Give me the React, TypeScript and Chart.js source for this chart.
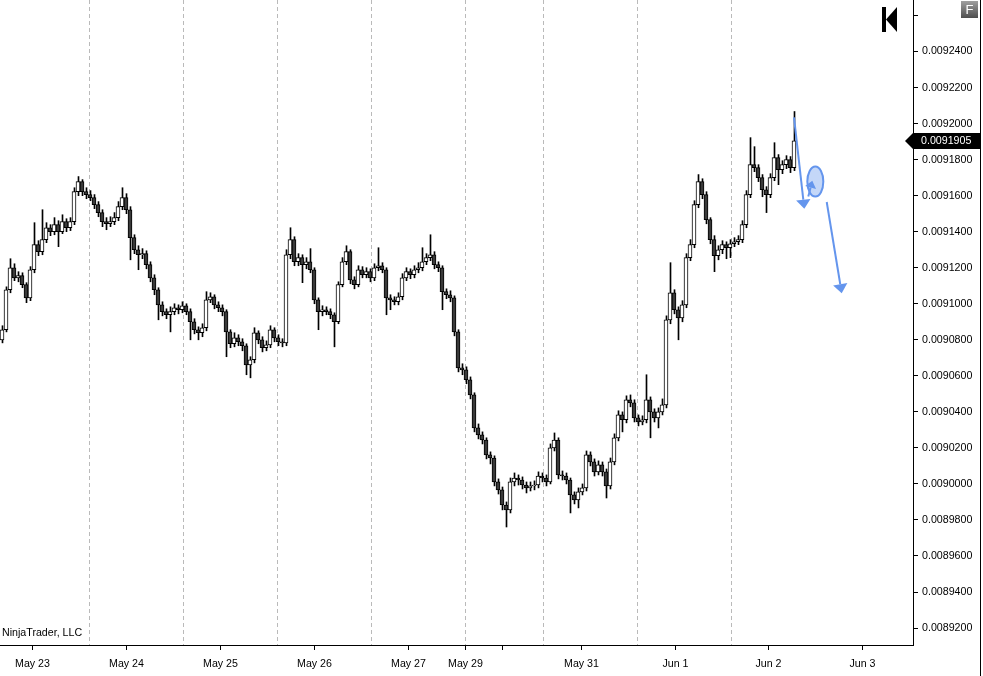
import { useEffect, useRef } from "react";
import { Chart, registerables } from "chart.js";

Chart.register(...registerables);

// half-hour-ish bars, one every 4px
const firstOpen = 0.00908;
const closes = [
  0.0090856, 0.0091078, 0.00912, 0.0091144, 0.0091156, 0.0091106, 0.0091033, 0.0091189, 0.0091328, 0.0091289,
  0.0091356, 0.0091422, 0.00914, 0.0091439, 0.00914, 0.0091456, 0.0091422, 0.0091456, 0.0091622, 0.0091678,
  0.0091622, 0.0091606, 0.0091589, 0.009155, 0.0091506, 0.0091456, 0.0091444, 0.0091456, 0.0091478, 0.0091539,
  0.0091589, 0.0091522, 0.0091367, 0.00913, 0.0091272, 0.0091278, 0.0091217, 0.0091144, 0.0091078, 0.0090994,
  0.0090956, 0.0090939, 0.0090956, 0.0090978, 0.0090967, 0.0090989, 0.0090956, 0.00909, 0.0090856, 0.0090839,
  0.0090867, 0.0091022, 0.0091039, 0.0090994, 0.0090978, 0.0090956, 0.0090844, 0.0090778, 0.0090811, 0.0090789,
  0.0090767, 0.0090661, 0.0090689, 0.0090839, 0.00908, 0.0090756, 0.0090772, 0.0090856, 0.0090811, 0.0090789,
  0.0090783, 0.0091272, 0.0091356, 0.0091233, 0.0091256, 0.0091217, 0.0091233, 0.0091189, 0.0091022, 0.0090956,
  0.0090967, 0.0090956, 0.0090939, 0.00909, 0.0091106, 0.0091233, 0.0091289, 0.0091133, 0.0091106, 0.0091189,
  0.0091161, 0.0091178, 0.0091144, 0.00912, 0.0091211, 0.0091189, 0.0091033, 0.0091022, 0.0091011, 0.0091039,
  0.0091144, 0.0091178, 0.0091161, 0.0091189, 0.00912, 0.0091233, 0.0091256, 0.0091272, 0.0091217, 0.00912,
  0.0091067, 0.009105, 0.0091033, 0.0090844, 0.0090644, 0.0090633, 0.0090578, 0.0090494, 0.0090311, 0.0090272,
  0.0090244, 0.0090161, 0.0090144, 0.0090011, 0.0089967, 0.0089883, 0.0089856, 0.0090011, 0.0090033, 0.0090022,
  0.0089994, 0.0089978, 0.0089989, 0.0089994, 0.0090044, 0.0090033, 0.0090011, 0.00902, 0.0090244, 0.009005,
  0.0090044, 0.0090022, 0.0089939, 0.0089911, 0.0089956, 0.0089978, 0.0090161, 0.0090122, 0.0090067, 0.0090106,
  0.0090067, 0.0089989, 0.0090122, 0.0090256, 0.0090383, 0.0090356, 0.0090467, 0.009045, 0.0090367, 0.0090344,
  0.0090356, 0.0090467, 0.00904, 0.0090367, 0.00904, 0.0090439, 0.0090911, 0.0091061, 0.0090967, 0.0090922,
  0.0090994, 0.0091256, 0.0091328, 0.009155, 0.0091678, 0.0091606, 0.0091467, 0.0091356, 0.0091267, 0.00913,
  0.0091328, 0.0091311, 0.0091333, 0.0091344, 0.0091356, 0.0091439, 0.0091606, 0.0091772, 0.0091756, 0.00917,
  0.0091633, 0.0091606, 0.00917, 0.0091811, 0.0091744, 0.0091772, 0.00918, 0.0091756, 0.0091905,
];
const highs = [
  0.0090878, 0.0091094, 0.009125, 0.0091222, 0.0091178, 0.0091172, 0.0091117, 0.0091206, 0.009145, 0.009135,
  0.0091522, 0.009145, 0.0091439, 0.0091478, 0.0091461, 0.0091494, 0.0091472, 0.0091478, 0.0091644, 0.0091706,
  0.0091689, 0.0091644, 0.0091628, 0.0091606, 0.0091567, 0.0091522, 0.0091478, 0.0091483, 0.0091506, 0.0091567,
  0.0091644, 0.0091611, 0.0091539, 0.0091383, 0.0091322, 0.0091306, 0.0091294, 0.0091233, 0.0091161, 0.0091089,
  0.0091011, 0.0090972, 0.0090983, 0.0091, 0.0090994, 0.0091011, 0.0091, 0.0090972, 0.0090917, 0.0090872,
  0.0090889, 0.0091067, 0.0091061, 0.009105, 0.0091011, 0.0090994, 0.0090967, 0.0090856, 0.0090839, 0.0090828,
  0.0090806, 0.0090778, 0.0090706, 0.0090867, 0.009085, 0.0090817, 0.0090794, 0.0090878, 0.0090867, 0.0090828,
  0.0090806, 0.00913, 0.0091422, 0.0091372, 0.0091278, 0.0091272, 0.0091256, 0.0091306, 0.00912, 0.0091033,
  0.0090989, 0.0090983, 0.0090972, 0.009095, 0.0091122, 0.0091256, 0.0091322, 0.00913, 0.009115, 0.0091211,
  0.0091206, 0.00912, 0.0091194, 0.0091222, 0.0091311, 0.0091228, 0.00912, 0.009105, 0.0091039, 0.0091061,
  0.0091167, 0.00912, 0.0091194, 0.0091211, 0.0091228, 0.0091311, 0.0091278, 0.0091383, 0.0091289, 0.0091233,
  0.0091211, 0.0091083, 0.0091072, 0.0091044, 0.0090856, 0.0090667, 0.009065, 0.0090594, 0.0090506, 0.0090333,
  0.0090289, 0.0090256, 0.0090178, 0.0090156, 0.0090028, 0.0089983, 0.00899, 0.0090033, 0.0090061, 0.009005,
  0.0090039, 0.0090011, 0.0090011, 0.0090017, 0.0090067, 0.0090061, 0.009005, 0.0090222, 0.0090283, 0.0090256,
  0.0090072, 0.0090061, 0.0090033, 0.0089956, 0.0089978, 0.0090000, 0.0090183, 0.0090178, 0.0090139, 0.0090128,
  0.0090122, 0.0090083, 0.0090144, 0.0090278, 0.0090406, 0.00904, 0.0090489, 0.0090494, 0.0090467, 0.0090383,
  0.0090378, 0.0090606, 0.0090483, 0.0090417, 0.0090422, 0.0090472, 0.0090933, 0.0091228, 0.0091078, 0.0090983,
  0.0091017, 0.0091278, 0.0091356, 0.0091572, 0.0091717, 0.0091694, 0.0091622, 0.0091478, 0.0091378, 0.0091322,
  0.009135, 0.0091344, 0.0091356, 0.0091367, 0.0091378, 0.0091461, 0.0091628, 0.0091922, 0.0091872, 0.0091772,
  0.0091717, 0.009165, 0.0091722, 0.0091894, 0.0091828, 0.0091794, 0.0091822, 0.0091817, 0.0092067,
];
const lows = [
  0.0090783, 0.0090844, 0.0091061, 0.0091128, 0.0091122, 0.0091089, 0.0091006, 0.0091017, 0.0091172, 0.0091267,
  0.0091272, 0.0091339, 0.0091378, 0.0091383, 0.0091317, 0.0091389, 0.00914, 0.0091406, 0.0091439, 0.00916,
  0.00916, 0.0091583, 0.0091572, 0.0091528, 0.0091483, 0.0091428, 0.0091411, 0.0091428, 0.0091439, 0.0091461,
  0.0091522, 0.00915, 0.0091244, 0.0091278, 0.0091189, 0.009125, 0.0091194, 0.0091122, 0.009105, 0.0090911,
  0.0090933, 0.0090917, 0.0090844, 0.0090939, 0.0090944, 0.009095, 0.0090939, 0.00908, 0.0090833, 0.00908,
  0.0090817, 0.009085, 0.0091006, 0.0090972, 0.0090956, 0.0090933, 0.0090706, 0.0090756, 0.0090761, 0.0090767,
  0.0090739, 0.0090606, 0.0090589, 0.0090672, 0.0090778, 0.0090733, 0.0090739, 0.0090756, 0.0090789, 0.0090767,
  0.0090761, 0.0090767, 0.009125, 0.0091211, 0.0091211, 0.0091117, 0.0091194, 0.0091172, 0.0091, 0.0090856,
  0.0090933, 0.0090939, 0.0090917, 0.0090761, 0.0090889, 0.0091094, 0.0091217, 0.0091111, 0.0091083, 0.0091094,
  0.0091144, 0.0091144, 0.0091122, 0.0091128, 0.0091183, 0.0091172, 0.0090939, 0.0090967, 0.0090994, 0.0090994,
  0.0091022, 0.0091128, 0.0091139, 0.0091144, 0.0091172, 0.0091183, 0.0091217, 0.0091239, 0.0091194, 0.0091178,
  0.0090967, 0.0091028, 0.0091011, 0.0090822, 0.0090622, 0.0090606, 0.0090556, 0.0090472, 0.0090289, 0.009025,
  0.0090222, 0.0090139, 0.0090111, 0.0089989, 0.0089944, 0.0089856, 0.0089761, 0.0089839, 0.0089989, 0.0089994,
  0.0089972, 0.008995, 0.0089961, 0.0089967, 0.0089978, 0.0090011, 0.0089989, 0.009, 0.0090183, 0.0090028,
  0.0090022, 0.009, 0.0089839, 0.0089889, 0.0089867, 0.0089939, 0.0089961, 0.00901, 0.0090044, 0.009005,
  0.0090044, 0.0089922, 0.0089972, 0.0090106, 0.0090239, 0.0090289, 0.0090339, 0.0090428, 0.0090344, 0.0090322,
  0.0090328, 0.0090339, 0.0090256, 0.0090344, 0.0090311, 0.0090383, 0.0090422, 0.0090889, 0.0090944, 0.00908,
  0.00909, 0.0090978, 0.0091239, 0.0091311, 0.0091533, 0.0091583, 0.0091444, 0.0091333, 0.0091178, 0.0091244,
  0.0091278, 0.009125, 0.0091256, 0.0091317, 0.0091328, 0.0091339, 0.0091422, 0.0091589, 0.0091733, 0.0091678,
  0.0091594, 0.0091506, 0.0091589, 0.0091683, 0.0091661, 0.0091722, 0.009175, 0.0091728, 0.0091739,
];

// x axis is counted in bar slots
const dateTicks = [8.125, 31.625, 55.125, 78.625, 102.125, 116.375, 125.625, 145.375, 168.875, 192.125, 215.625];
const dateLabels = ["May 23", "May 24", "May 25", "May 26", "May 27", "May 29", "", "May 31", "Jun 1", "Jun 2", "Jun 3"];
const sessionBreaks = [22.375, 45.875, 69.375, 92.875, 116.375, 135.875, 159.375, 182.875];

const priceTicks = [
  0.00892, 0.00894, 0.00896, 0.00898, 0.009, 0.00902, 0.00904, 0.00906, 0.00908,
  0.0091, 0.00912, 0.00914, 0.00916, 0.00918, 0.0092, 0.00922, 0.00924, 0.00926,
];
const priceLabels = [
  "0.0089200", "0.0089400", "0.0089600", "0.0089800", "0.0090000", "0.0090200", "0.0090400", "0.0090600", "0.0090800",
  "0.0091000", "0.0091200", "0.0091400", "0.0091600", "0.0091800", "0.0092000", "0.0092200", "0.0092400", "",
];

// hand-drawn blue arrows, [slot, price]
const arrows = [
  { from: [198.5, 0.0092035], to: [201.08, 0.0091528], head: 9 },
  { from: [206.68, 0.0091565], to: [210.43, 0.0091059], head: 9 },
  { from: [202.08, 0.0091596], to: [203.08, 0.0091683], head: 7 },
];
const ellipseAt = [203.83, 0.0091678];

const FONT = "'Liberation Sans', Arial, sans-serif";
const BLUE = "#6495ed";

const opens = closes.map((_, i) => (i === 0 ? firstOpen : closes[i - 1]));

const decor = {
  id: "decor",
  beforeDatasetsDraw(chart: any) {
    const { ctx, chartArea, scales } = chart;
    ctx.save();
    ctx.strokeStyle = "#bababa";
    ctx.lineWidth = 1;
    ctx.setLineDash([4, 3]);
    sessionBreaks.forEach((v) => {
      const x = Math.floor(scales.x.getPixelForValue(v)) + 0.5;
      ctx.beginPath();
      ctx.moveTo(x, chartArea.top);
      ctx.lineTo(x, chartArea.bottom);
      ctx.stroke();
    });
    ctx.restore();
  },
  afterDraw(chart: any) {
    const { ctx, scales } = chart;
    const sx = scales.x, sy = scales.y;
    ctx.save();

    // blue drawing objects
    ctx.strokeStyle = BLUE;
    ctx.lineWidth = 2;
    const ex = sx.getPixelForValue(ellipseAt[0]);
    const ey = sy.getPixelForValue(ellipseAt[1]);
    ctx.beginPath();
    ctx.ellipse(ex, ey, 8, 15, 0, 0, Math.PI * 2);
    ctx.fillStyle = "rgba(100,149,237,0.38)";
    ctx.fill();
    ctx.stroke();
    ctx.fillStyle = BLUE;
    arrows.forEach((a) => {
      const x1 = sx.getPixelForValue(a.from[0]), y1 = sy.getPixelForValue(a.from[1]);
      const x2 = sx.getPixelForValue(a.to[0]), y2 = sy.getPixelForValue(a.to[1]);
      const len = Math.hypot(x2 - x1, y2 - y1);
      const ux = (x2 - x1) / len, uy = (y2 - y1) / len;
      const bx = x2 - ux * a.head, by = y2 - uy * a.head;
      const w = a.head * 0.8;
      ctx.beginPath();
      ctx.moveTo(x1, y1);
      ctx.lineTo(bx, by);
      ctx.stroke();
      ctx.beginPath();
      ctx.moveTo(x2, y2);
      ctx.lineTo(bx - uy * w, by + ux * w);
      ctx.lineTo(bx + uy * w, by - ux * w);
      ctx.closePath();
      ctx.fill();
    });

    // last price marker
    const last = closes[closes.length - 1];
    const cy = Math.round(sy.getPixelForValue(last));
    ctx.fillStyle = "#000";
    ctx.beginPath();
    ctx.moveTo(905, cy);
    ctx.lineTo(913, cy - 8);
    ctx.lineTo(981, cy - 8);
    ctx.lineTo(981, cy + 8);
    ctx.lineTo(913, cy + 8);
    ctx.closePath();
    ctx.fill();
    ctx.fillStyle = "#fff";
    ctx.font = `10.67px ${FONT}`;
    ctx.textBaseline = "middle";
    ctx.textAlign = "left";
    ctx.fillText(last.toFixed(7), 921, cy + 0.5);

    // frame line on the right
    ctx.fillStyle = "#000";
    ctx.fillRect(980, 0, 1, chart.height);

    // the "go to end" icon
    ctx.fillRect(882, 7, 4, 25);
    ctx.beginPath();
    ctx.moveTo(886, 19.5);
    ctx.lineTo(897, 7);
    ctx.lineTo(897, 32);
    ctx.closePath();
    ctx.fill();

    // the F button
    const g = ctx.createLinearGradient(0, 1, 0, 18);
    g.addColorStop(0, "#a0a0a0");
    g.addColorStop(1, "#4e4e4e");
    ctx.fillStyle = g;
    ctx.fillRect(961, 1, 17, 17);
    ctx.fillStyle = "#fff";
    ctx.font = `13px ${FONT}`;
    ctx.textAlign = "center";
    ctx.fillText("F", 969.5, 10);

    // copyright text
    ctx.fillStyle = "#000";
    ctx.font = `10.67px ${FONT}`;
    ctx.textAlign = "left";
    ctx.textBaseline = "alphabetic";
    ctx.fillText("NinjaTrader, LLC", 2, 636);
    ctx.restore();
  },
};

const App = () => {
  const canvasRef = useRef<HTMLCanvasElement | null>(null);
  const chartInstance = useRef<Chart | null>(null);

  useEffect(() => {
    document.body.style.margin = "0";
    if (!canvasRef.current) return;
    if (chartInstance.current) chartInstance.current.destroy();
    const ctx = canvasRef.current.getContext("2d");
    if (!ctx) return;

    // wick sits on a whole pixel column, body spans the 4px slot
    const wickData = closes.map((_, i) => ({ x: i + 0.625, y: [lows[i], highs[i]] }));
    const bodyData = closes.map((c, i) => ({ x: i + 0.5, y: [opens[i], c] }));
    const bodyColors = closes.map((c, i) => (c >= opens[i] ? "#ffffff" : "#3a3a3a"));

    chartInstance.current = new Chart(ctx, {
      type: "bar",
      data: {
        datasets: [
          {
            label: "wicks",
            data: wickData as any,
            backgroundColor: "#000",
            borderWidth: 0,
            barThickness: 1,
            grouped: false,
            order: 2,
          },
          {
            label: "bodies",
            data: bodyData as any,
            backgroundColor: bodyColors,
            borderColor: "#000",
            borderWidth: 1,
            borderSkipped: false,
            barThickness: 4,
            grouped: false,
            order: 1,
          },
        ],
      },
      options: {
        animation: false,
        responsive: true,
        maintainAspectRatio: false,
        layout: { padding: 0 },
        plugins: { legend: { display: false }, tooltip: { enabled: false } },
        scales: {
          x: {
            type: "linear",
            position: "bottom",
            min: 0,
            max: 228.25,
            offset: false,
            grid: { offset: false, drawOnChartArea: false, drawTicks: true, tickLength: 5, color: "#000" },
            border: { display: true, color: "#000", width: 1 },
            afterBuildTicks: (scale: any) => {
              scale.ticks = dateTicks.map((v) => ({ value: v }));
            },
            afterFit: (scale: any) => {
              scale.height = 31;
              scale.paddingLeft = 0;
              scale.paddingRight = 0;
            },
            ticks: {
              autoSkip: false,
              maxRotation: 0,
              minRotation: 0,
              padding: 8,
              color: "#000",
              font: { family: FONT, size: 10.67 },
              callback: (_v: any, i: number) => dateLabels[i],
            },
          },
          y: {
            type: "linear",
            position: "right",
            min: 0.0089106,
            max: 0.0092686,
            grid: { drawOnChartArea: false, drawTicks: true, tickLength: 5, color: "#000" },
            border: { display: true, color: "#000", width: 1 },
            afterBuildTicks: (scale: any) => {
              scale.ticks = priceTicks.map((v) => ({ value: v }));
            },
            afterFit: (scale: any) => {
              scale.width = 70;
              scale.paddingTop = 0;
              scale.paddingBottom = 0;
            },
            ticks: {
              padding: 4,
              color: "#000",
              font: { family: FONT, size: 10.67 },
              callback: (_v: any, i: number) => priceLabels[i],
            },
          },
        },
      },
      plugins: [decor],
    });

    return () => {
      if (chartInstance.current) {
        chartInstance.current.destroy();
        chartInstance.current = null;
      }
    };
  }, []);

  return (
    <div style={{ width: 983, height: 676, position: "relative", background: "#fff" }}>
      <canvas ref={canvasRef} />
    </div>
  );
};

export default App;
